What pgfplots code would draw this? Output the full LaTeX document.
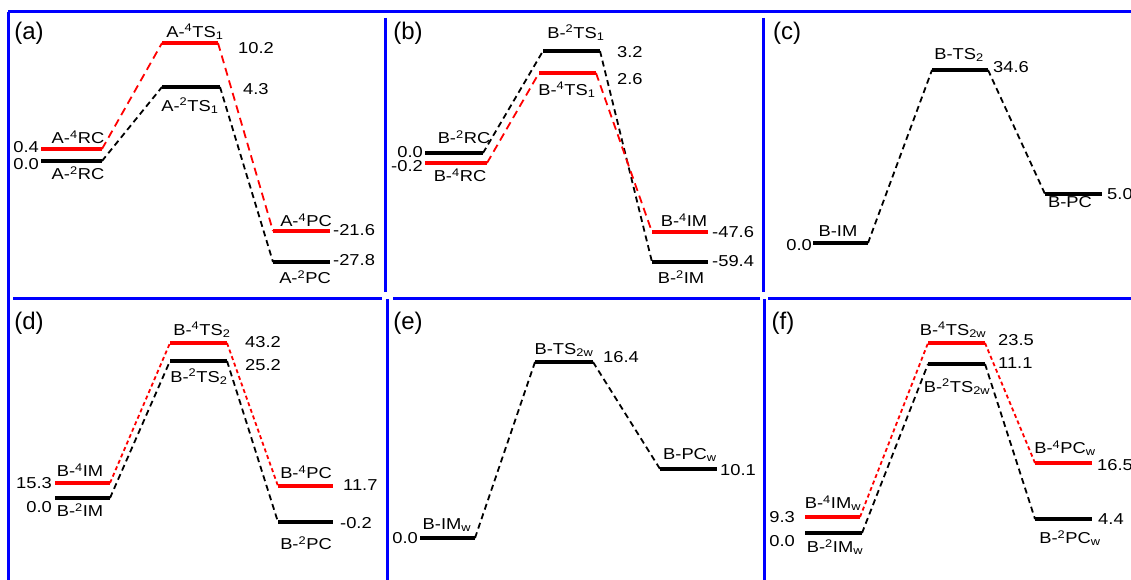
\documentclass[border=0pt]{standalone}
\usepackage{fontspec}
\setmainfont{Liberation Sans}
\usepackage{graphicx}
\usepackage{pgfplots}
\pgfplotsset{compat=1.18}
\definecolor{lred}{RGB}{255,0,0}
\definecolor{lblue}{RGB}{0,0,255}
\newcommand{\sx}[1]{\scalebox{1.16}[1]{#1}}
\newcommand{\up}[1]{\textsuperscript{#1}}
\newcommand{\dn}[1]{\textsubscript{#1}}
\tikzset{
  lev/.style={line width=4.5pt},
  con/.style={line width=1.8pt, dash pattern=on 6pt off 4pt},
  conl/.style={line width=1.8pt, dash pattern=on 8pt off 5pt},
  cons/.style={line width=1.8pt, dash pattern=on 4pt off 3pt},
  lab/.style={font=\fontsize{15.8}{17}\selectfont, inner sep=0pt},
  plab/.style={font=\fontsize{24}{26}\selectfont, inner sep=0pt},
  frame/.style={lblue, line width=3pt},
}
\begin{document}
\begin{tikzpicture}
\useasboundingbox (0,0) rectangle (1131pt,580pt);
\clip (0,0) rectangle (1131pt,580pt);
\begin{axis}[at={(0,0)},anchor=south west,scale only axis,
  width=1131pt,height=580pt,xmin=0,xmax=1131,ymin=0,ymax=580,
  y dir=reverse,hide axis,clip=false]
% ---------- frames
\draw[frame] (axis cs:8,12) -- (axis cs:1131,12);
\draw[frame] (axis cs:8,12) -- (axis cs:8,580);
\draw[frame] (axis cs:13,298) -- (axis cs:382,298);
\draw[frame] (axis cs:393,298) -- (axis cs:760,298);
\draw[frame] (axis cs:768,298) -- (axis cs:1131,298);
\draw[frame] (axis cs:385,18) -- (axis cs:385,292);
\draw[frame] (axis cs:387,299) -- (axis cs:387,580);
\draw[frame] (axis cs:763,18) -- (axis cs:763,292);
\draw[frame] (axis cs:764,299) -- (axis cs:764,580);
% ---------- panel (a)
\addplot[lev,lred] coordinates {(41,149) (102,149)};
\addplot[lev,black] coordinates {(41,161) (102,161)};
\addplot[lev,lred] coordinates {(162,43) (218,43)};
\addplot[lev,black] coordinates {(162,87) (220,87)};
\addplot[lev,lred] coordinates {(273,231) (330,231)};
\addplot[lev,black] coordinates {(273,262) (330,262)};
\addplot[conl,lred] coordinates {(102,149) (162,43)};
\addplot[conl,lred] coordinates {(218,43) (273,231)};
\addplot[con,black] coordinates {(102,161) (162,87)};
\addplot[con,black] coordinates {(220,87) (273,262)};
\node[plab] at (29,33) {(a)};
\node[lab,anchor=east] at (39,147) {\sx{0.4}};
\node[lab,anchor=east] at (39,164) {\sx{0.0}};
\node[lab] at (78,137) {\sx{A-\up{4}RC}};
\node[lab] at (78,173) {\sx{A-\up{2}RC}};
\node[lab] at (195,32) {\sx{A-\up{4}TS\dn{1}}};
\node[lab,anchor=west] at (238,48) {\sx{10.2}};
\node[lab,anchor=west] at (243,89) {\sx{4.3}};
\node[lab] at (190,106) {\sx{A-\up{2}TS\dn{1}}};
\node[lab] at (306,220) {\sx{A-\up{4}PC}};
\node[lab,anchor=west] at (333,230) {\sx{-21.6}};
\node[lab,anchor=west] at (333,260) {\sx{-27.8}};
\node[lab] at (305,277) {\sx{A-\up{2}PC}};
% ---------- panel (b)
\addplot[lev,black] coordinates {(425,153) (483,153)};
\addplot[lev,lred] coordinates {(425,163) (487,163)};
\addplot[lev,black] coordinates {(543,51) (600,51)};
\addplot[lev,lred] coordinates {(539,73) (596,73)};
\addplot[lev,lred] coordinates {(652,232) (708,232)};
\addplot[lev,black] coordinates {(652,262) (708,262)};
\addplot[con,black] coordinates {(483,153) (543,51)};
\addplot[con,black] coordinates {(600,51) (652,262)};
\addplot[conl,lred] coordinates {(487,163) (539,73)};
\addplot[conl,lred] coordinates {(596,73) (652,232)};
\node[plab] at (408,33) {(b)};
\node[lab,anchor=east] at (423,152) {\sx{0.0}};
\node[lab,anchor=east] at (423,166) {\sx{-0.2}};
\node[lab] at (464,137) {\sx{B-\up{2}RC}};
\node[lab] at (460,175) {\sx{B-\up{4}RC}};
\node[lab] at (576,33) {\sx{B-\up{2}TS\dn{1}}};
\node[lab,anchor=west] at (617,52) {\sx{3.2}};
\node[lab] at (567,90) {\sx{B-\up{4}TS\dn{1}}};
\node[lab,anchor=west] at (617,79) {\sx{2.6}};
\node[lab] at (684,220) {\sx{B-\up{4}IM}};
\node[lab,anchor=west] at (712,232) {\sx{-47.6}};
\node[lab,anchor=west] at (712,261) {\sx{-59.4}};
\node[lab] at (681,277) {\sx{B-\up{2}IM}};
% ---------- panel (c)
\addplot[lev,black] coordinates {(813,243) (868,243)};
\addplot[lev,black] coordinates {(932,70) (988,70)};
\addplot[lev,black] coordinates {(1045,194) (1102,194)};
\addplot[con,black] coordinates {(868,243) (932,70)};
\addplot[con,black] coordinates {(988,70) (1045,194)};
\node[plab] at (787,33) {(c)};
\node[lab,anchor=east] at (812,245) {\sx{0.0}};
\node[lab] at (838,231) {\sx{B-IM}};
\node[lab] at (959,55) {\sx{B-TS\dn{2}}};
\node[lab,anchor=west] at (993,67) {\sx{34.6}};
\node[lab,anchor=west] at (1107,194) {\sx{5.0}};
\node[lab] at (1070,202) {\sx{B-PC}};
% ---------- panel (d)
\addplot[lev,lred] coordinates {(55,483) (110,483)};
\addplot[lev,black] coordinates {(55,498) (110,498)};
\addplot[lev,lred] coordinates {(170,343) (227,343)};
\addplot[lev,black] coordinates {(170,361) (227,361)};
\addplot[lev,lred] coordinates {(278,486) (333,486)};
\addplot[lev,black] coordinates {(278,522) (333,522)};
\addplot[cons,lred] coordinates {(110,483) (170,343)};
\addplot[cons,lred] coordinates {(227,343) (278,486)};
\addplot[con,black] coordinates {(110,498) (170,361)};
\addplot[con,black] coordinates {(227,361) (278,522)};
\node[plab] at (29,323) {(d)};
\node[lab,anchor=east] at (52,483) {\sx{15.3}};
\node[lab,anchor=east] at (52,507) {\sx{0.0}};
\node[lab] at (80,470) {\sx{B-\up{4}IM}};
\node[lab] at (80,510) {\sx{B-\up{2}IM}};
\node[lab] at (202,330) {\sx{B-\up{4}TS\dn{2}}};
\node[lab,anchor=west] at (245,342) {\sx{43.2}};
\node[lab,anchor=west] at (245,365) {\sx{25.2}};
\node[lab] at (199,377) {\sx{B-\up{2}TS\dn{2}}};
\node[lab] at (306,472) {\sx{B-\up{4}PC}};
\node[lab,anchor=west] at (343,485) {\sx{11.7}};
\node[lab,anchor=west] at (340,523) {\sx{-0.2}};
\node[lab] at (306,543) {\sx{B-\up{2}PC}};
% ---------- panel (e)
\addplot[lev,black] coordinates {(420,538) (475,538)};
\addplot[lev,black] coordinates {(535,362) (593,362)};
\addplot[lev,black] coordinates {(660,469) (717,469)};
\addplot[con,black] coordinates {(475,538) (535,362)};
\addplot[con,black] coordinates {(593,362) (660,469)};
\node[plab] at (408,323) {(e)};
\node[lab,anchor=east] at (418,538) {\sx{0.0}};
\node[lab] at (447,525) {\sx{B-IM\dn{w}}};
\node[lab] at (564,350) {\sx{B-TS\dn{2w}}};
\node[lab,anchor=west] at (603,357) {\sx{16.4}};
\node[lab] at (690,455) {\sx{B-PC\dn{w}}};
\node[lab,anchor=west] at (720,470) {\sx{10.1}};
% ---------- panel (f)
\addplot[lev,lred] coordinates {(805,517) (860,517)};
\addplot[lev,black] coordinates {(805,533) (862,533)};
\addplot[lev,lred] coordinates {(928,343) (985,343)};
\addplot[lev,black] coordinates {(928,364) (985,364)};
\addplot[lev,lred] coordinates {(1035,463) (1092,463)};
\addplot[lev,black] coordinates {(1035,519) (1092,519)};
\addplot[cons,lred] coordinates {(860,517) (928,343)};
\addplot[cons,lred] coordinates {(985,343) (1035,463)};
\addplot[con,black] coordinates {(862,533) (928,364)};
\addplot[con,black] coordinates {(985,364) (1035,519)};
\node[plab] at (783,323) {(f)};
\node[lab,anchor=east] at (795,517) {\sx{9.3}};
\node[lab,anchor=east] at (795,541) {\sx{0.0}};
\node[lab] at (833,503) {\sx{B-\up{4}IM\dn{w}}};
\node[lab] at (835,547) {\sx{B-\up{2}IM\dn{w}}};
\node[lab] at (953,330) {\sx{B-\up{4}TS\dn{2w}}};
\node[lab,anchor=west] at (998,340) {\sx{23.5}};
\node[lab,anchor=west] at (998,363) {\sx{11.1}};
\node[lab] at (957,387) {\sx{B-\up{2}TS\dn{2w}}};
\node[lab] at (1065,448) {\sx{B-\up{4}PC\dn{w}}};
\node[lab,anchor=west] at (1097,465) {\sx{16.5}};
\node[lab,anchor=west] at (1098,519) {\sx{4.4}};
\node[lab] at (1070,538) {\sx{B-\up{2}PC\dn{w}}};
\end{axis}
\end{tikzpicture}
\end{document}
